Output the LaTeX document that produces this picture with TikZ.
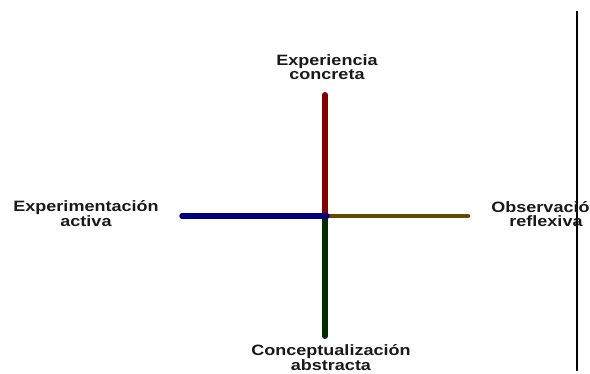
\documentclass[tikz,border=0pt]{standalone}
\usepackage{fontspec}
\newfontfamily\lblfont[FakeStretch=1.2]{Liberation Sans}
\definecolor{axred}{RGB}{128,0,0}
\definecolor{axblue}{RGB}{0,0,128}
\definecolor{axbrown}{RGB}{100,74,0}
\definecolor{axgreen}{RGB}{0,44,0}
\tikzset{
  lbl/.style={align=center, inner sep=0pt, anchor=base,
    font=\lblfont\bfseries\fontsize{15pt}{13.8pt}\selectfont, text=black!90},
  axis/.style={line cap=round, line width=#1},
}
\begin{document}
\begin{tikzpicture}[x=1pt,y=-1pt]
\useasboundingbox (0,0) rectangle (590,374);
\clip (0,0) rectangle (590,374);
\coordinate (c) at (325,216);
\coordinate (top) at (325,95);
\coordinate (bot) at (325,336);
\coordinate (lft) at (182,216);
\coordinate (rgt) at (468,216);
\coordinate (vt) at (577,11);
\coordinate (vb) at (577,371);
\draw[axis=6pt, axred] (c) -- (top);
\draw[axis=6pt, axgreen] (c) -- (bot);
\draw[axis=4.5pt, axbrown] (c) -- (rgt);
\draw[axis=5.5pt, axblue] (lft) -- ([xshift=2pt]c);
\draw[line width=2pt] (vt) -- (vb);
\node[lbl] (ec) at (327,79.4) {Experiencia\\concreta};
\node[lbl] (ea) at (86,226.6) {Experimentación\\activa};
\node[lbl] (or) at (546,226.6) {Observación\\reflexiva};
\node[lbl] (ca) at (331,370.8) {Conceptualización\\abstracta};
\end{tikzpicture}
\end{document}
